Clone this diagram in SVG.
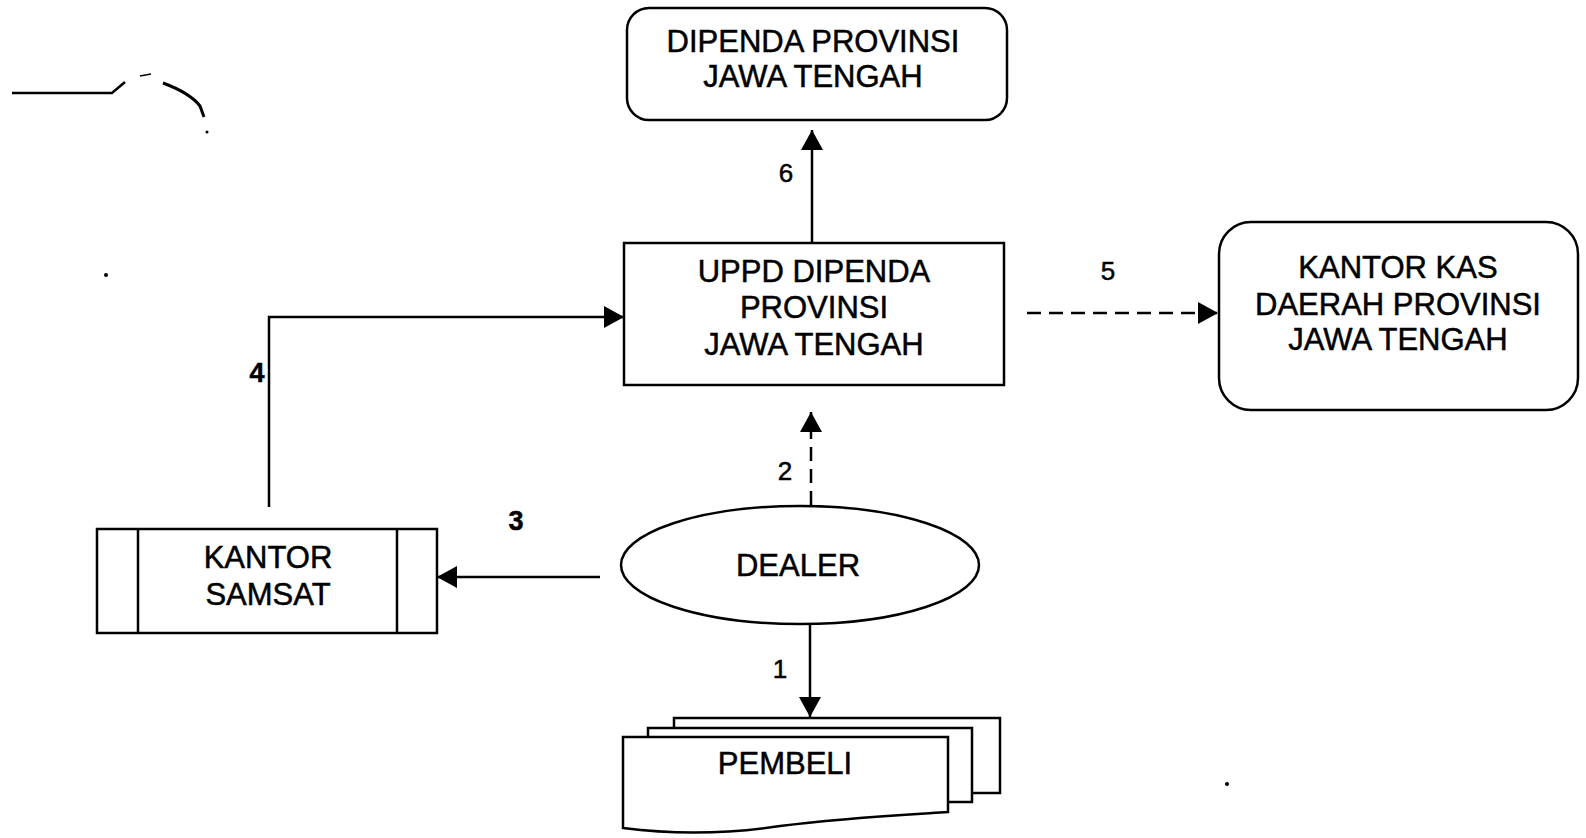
<svg xmlns="http://www.w3.org/2000/svg" width="1586" height="838" viewBox="0 0 1586 838">
<style>
.box{fill:#fff;stroke:#000;stroke-width:2.5}
.ln{fill:none;stroke:#000;stroke-width:2.5}
.dash{fill:none;stroke:#000;stroke-width:2.5;stroke-dasharray:14 8}
text{font-family:"Liberation Sans",Arial,sans-serif;font-size:31px;fill:#000;stroke:#000;stroke-width:0.5;text-anchor:middle}
.num{font-size:26px}
.bnum{font-size:27px;font-weight:bold}
</style>
<defs>
<marker id="ah" markerUnits="userSpaceOnUse" markerWidth="22" markerHeight="24" refX="20" refY="11" orient="auto">
<path d="M0,0 L20,11 L0,22 z" fill="#000"/>
</marker>
</defs>
<rect width="1586" height="838" fill="#fff"/>
<g id="scribble" fill="none" stroke="#000" stroke-width="2.5">
<path d="M12,93 L112,93 L125,82"/>
<path d="M140,76 L151,74" stroke-width="1.5"/>
<path d="M163,83 Q190,93 200,106 L204,117" stroke-width="3"/>
<circle cx="207" cy="132" r="1.5" fill="#000" stroke="none"/>
<circle cx="106" cy="275" r="2" fill="#000" stroke="none"/>
<circle cx="1227" cy="784" r="2" fill="#000" stroke="none"/>
</g>
<g id="connectors">
<line class="ln" x1="812" y1="243" x2="812" y2="130" marker-end="url(#ah)"/>
<text class="num" x="786" y="182">6</text>
<line class="dash" x1="1027" y1="313" x2="1218" y2="313" marker-end="url(#ah)"/>
<text class="num" x="1108" y="280">5</text>
<polyline class="ln" points="269,507 269,317 624,317" marker-end="url(#ah)"/>
<text class="bnum" x="257" y="382">4</text>
<line class="dash" x1="811" y1="505" x2="811" y2="412" marker-end="url(#ah)"/>
<text class="num" x="785" y="480">2</text>
<line class="ln" x1="600" y1="577" x2="437" y2="577" marker-end="url(#ah)"/>
<text class="bnum" x="516" y="530">3</text>
<line class="ln" x1="810" y1="623" x2="810" y2="717" marker-end="url(#ah)"/>
<text class="num" x="780" y="678">1</text>
</g>
<g id="dipenda">
<rect class="box" x="627" y="8" width="380" height="112" rx="22"/>
<text x="813" y="52">DIPENDA PROVINSI</text>
<text x="813" y="87">JAWA TENGAH</text>
</g>
<g id="uppd">
<rect class="box" x="624" y="243" width="380" height="142"/>
<text x="814" y="282">UPPD DIPENDA</text>
<text x="814" y="318">PROVINSI</text>
<text x="814" y="355">JAWA TENGAH</text>
</g>
<g id="kantor-kas">
<rect class="box" x="1219" y="222" width="359" height="188" rx="32"/>
<text x="1398" y="278">KANTOR KAS</text>
<text x="1398" y="315">DAERAH PROVINSI</text>
<text x="1398" y="350">JAWA TENGAH</text>
</g>
<g id="kantor-samsat">
<rect class="box" x="97" y="529" width="340" height="104"/>
<line class="ln" x1="138" y1="529" x2="138" y2="633"/>
<line class="ln" x1="397" y1="529" x2="397" y2="633"/>
<text x="268" y="568">KANTOR</text>
<text x="268" y="605">SAMSAT</text>
</g>
<g id="dealer">
<ellipse class="box" cx="800" cy="565" rx="179" ry="59"/>
<text x="798" y="576">DEALER</text>
</g>
<g id="pembeli">
<path class="box" d="M674,793 L674,718 L1000,718 L1000,793 Z"/>
<path class="box" d="M648,802 L648,728 L972,728 L972,802 Z"/>
<path class="box" d="M623,828 L623,737 L948,737 L948,812 C900,815 840,818 780,826 C720,835 670,834 623,828 Z"/>
<text x="785" y="774">PEMBELI</text>
</g>
</svg>
